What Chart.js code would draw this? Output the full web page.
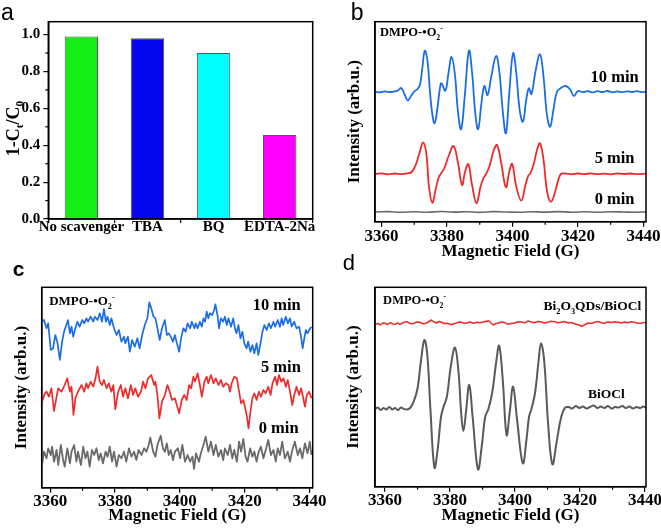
<!DOCTYPE html>
<html><head><meta charset="utf-8">
<script src="https://cdn.jsdelivr.net/npm/chart.js@4.4.1/dist/chart.umd.min.js"></script>
<style>
html,body{margin:0;padding:0;background:#fff;}
#wrap{position:relative;width:661px;height:528px;overflow:hidden;background:#fff;}
canvas{position:absolute;}
</style></head><body>
<div id="wrap">
<canvas id="ca" width="330" height="255" style="left:0;top:0;width:330px;height:255px"></canvas>
<canvas id="cb" width="345" height="265" style="left:330px;top:0;width:345px;height:265px"></canvas>
<canvas id="cc" width="330" height="278" style="left:0;top:250px;width:330px;height:278px"></canvas>
<canvas id="cd" width="345" height="278" style="left:330px;top:250px;width:345px;height:278px"></canvas>
</div>
<script>
// ---------- data ----------
const scavengers = ['No scavenger', 'TBA', 'BQ', 'EDTA-2Na'];
const removalRatio = [0.99, 0.98, 0.90, 0.455];
const ratioTicks = [0, 0.2, 0.4, 0.6, 0.8, 1.0];
const ratioMinorTicks = [0.1, 0.3, 0.5, 0.7, 0.9];
const fieldTicks = [3360, 3380, 3400, 3420, 3440];
const fieldMinorTicks = [3370, 3390, 3410, 3430];

// panel b : [field (G), intensity (arb.u.)]
const b10min = [[3358.2,130.3],[3359.5,129.6],[3361,130.6],[3362.5,129.8],[3364,130.6],[3365,131.5],[3366,134],[3367,128],[3368,121.5],[3369,126],[3370,130.5],[3371,133],[3371.8,138],[3372.5,155],[3373.2,171.3],[3374,162],[3374.8,130],[3375.5,108],[3376.2,98.7],[3377,112],[3377.8,133],[3378.3,138.7],[3379.5,131.3],[3380.5,150],[3381.4,165],[3382.4,148],[3383.3,112],[3384.3,92.7],[3385.4,125],[3386.7,171.3],[3387.7,148],[3388.6,110],[3389.5,92.7],[3390.5,118],[3391.4,136],[3392.4,127],[3393.5,145],[3395,166],[3396,150],[3397,112],[3398,88.7],[3399,128],[3400.2,168.7],[3401.2,148],[3402.2,112],[3403.2,100.3],[3404.2,122],[3405,133.7],[3405.8,128],[3407,150],[3408.4,167.7],[3409.5,145],[3410.5,108],[3411.5,95.3],[3412.5,112],[3413.6,130.3],[3415,134.5],[3416.3,136],[3417.5,133],[3418.8,126],[3420,131],[3421.5,129.8],[3423,130.8],[3424.5,129.6],[3426,130.9],[3427.5,130],[3429,131],[3430.5,129.7],[3432,130.6],[3433.5,129.8],[3435,130.7],[3436.5,130],[3438,130.8],[3439.5,129.9],[3440.8,130.3]];
const b5min = [[3358.2,48],[3360,48.6],[3362,47.6],[3364,48.5],[3366,47.8],[3368,48.6],[3369.2,50],[3370.3,56],[3371.5,68],[3372.7,79.5],[3373.7,68],[3374.5,35],[3375.5,19.3],[3376.5,32],[3377.4,44],[3378.2,48.7],[3379.2,54],[3380.5,66],[3382,76],[3383.3,60],[3384.6,37],[3385.5,50],[3386.5,58],[3387.6,38],[3389,18.7],[3390.3,36],[3391.3,45],[3391.8,47],[3393,56],[3394.3,72],[3395.3,77],[3396.5,60],[3398,34.7],[3399,50],[3399.9,58],[3401.2,35],[3402.7,21.3],[3403.9,36],[3404.8,46],[3405.5,48.7],[3406.5,58],[3407.5,72],[3408.4,78.7],[3409.5,62],[3410.6,30],[3411.8,20.3],[3413,30],[3414,42],[3414.8,48],[3416,48.6],[3418,47.7],[3420,48.5],[3422,47.9],[3424,48.6],[3426,47.8],[3428,48.4],[3430,47.7],[3432,48.6],[3434,48],[3436,48.5],[3438,47.8],[3440.8,48.3]];
const b0min = [[3358.2,10],[3362,10.4],[3366,9.7],[3370,10.3],[3374,9.8],[3378,10.5],[3382,9.9],[3386,10.3],[3390,9.6],[3394,10.4],[3398,10],[3402,9.7],[3406,10.3],[3410,9.9],[3414,10.4],[3418,9.8],[3422,10.2],[3426,9.7],[3430,10.3],[3434,10],[3438,9.8],[3440.8,10.1]];

// panel c
const c10min = [[3357.5,166.3],[3358.1,168],[3358.9,159.7],[3359.4,164.7],[3360.2,138],[3360.9,139.7],[3361.6,153],[3362.3,144.7],[3363,128],[3363.7,146.3],[3364.3,156.3],[3365,163],[3365.5,168],[3366.1,154.7],[3366.6,161.3],[3367.1,151.3],[3367.8,159.7],[3368.4,166.3],[3369.1,161.3],[3369.9,168],[3370.5,164.7],[3371.2,169.7],[3371.7,166.3],[3372.5,171.3],[3373.3,166.3],[3373.8,171.3],[3374.6,168],[3375.3,174.7],[3376,166.3],[3376.6,179],[3377.2,166.3],[3377.7,171.3],[3378.4,163],[3378.9,169.7],[3379.7,159.7],[3380.5,153],[3381.2,158],[3382,146.3],[3382.8,151.3],[3383.2,144.7],[3384,151.3],[3384.6,136.3],[3385.3,148],[3386.1,141.3],[3386.9,149.7],[3387.6,139.7],[3388.4,153],[3389.2,163],[3390,169.7],[3390.6,185.7],[3391.2,179.7],[3391.9,171.3],[3392.5,169.7],[3393.1,159.7],[3393.8,148],[3394.5,159.7],[3395.4,168],[3396,153],[3396.6,154.7],[3397.2,151.3],[3397.9,146.3],[3398.5,153],[3399.1,144.7],[3399.8,136.3],[3400.4,149.7],[3401.1,159.7],[3401.8,156.3],[3402.4,164.7],[3403.2,159.7],[3403.7,166.3],[3404.5,159.7],[3404.9,164.7],[3405.5,159.7],[3406.2,166.3],[3406.8,161.3],[3407.3,169.7],[3407.8,166.3],[3408.3,176.3],[3408.8,169.7],[3409.3,174.7],[3410,173],[3410.6,178],[3411,183.7],[3411.7,171.3],[3412.1,159.7],[3412.7,169.7],[3413.4,166.3],[3413.9,171.3],[3414.5,163],[3415,169.7],[3415.8,161.3],[3416.5,169.7],[3417,159.7],[3417.5,154.7],[3418.1,163],[3418.7,149.7],[3419.3,156.3],[3419.9,144.7],[3420.6,139.7],[3421.1,146.3],[3421.8,136.3],[3422.4,143],[3423,134.7],[3423.7,144.7],[3424.2,133],[3424.9,144.7],[3425.5,156.3],[3426.1,163],[3426.8,158],[3427.5,164.7],[3428.1,159.7],[3428.9,166.3],[3429.4,161.3],[3430.2,168],[3430.9,161.3],[3431.4,169.7],[3431.9,163],[3432.7,171.3],[3433.3,164.7],[3434,169.7],[3434.5,161.3],[3435.3,166.3],[3436,159.7],[3436.8,161.3],[3437.4,151.3],[3437.9,139.7],[3438.4,149.7],[3438.9,158],[3439.4,154.7],[3439.9,158],[3440.6,161.3]];
const c5min = [[3357.5,86.3],[3358.4,94.7],[3358.9,96.3],[3359.6,91.3],[3360.4,99.7],[3361.2,77],[3362,91.3],[3362.5,99.7],[3363.5,96.3],[3364.5,103],[3365.3,109.7],[3366.1,96.3],[3366.6,101.3],[3367.2,73],[3367.8,89.7],[3368.6,96.3],[3369.7,103],[3370.5,96.3],[3371.2,104.7],[3371.7,99.7],[3372.5,106.3],[3373.3,101.3],[3374,109.7],[3374.6,121.3],[3375.3,106.3],[3376,103],[3376.6,108],[3377.4,99.7],[3378.1,104.7],[3378.9,96.3],[3379.5,103],[3380.1,78.7],[3381,96.3],[3381.8,103],[3382.5,91.3],[3383.2,99.7],[3384,89.7],[3384.9,103],[3385.6,93],[3386.3,99.7],[3387.1,91.3],[3388,96.3],[3388.7,106.3],[3389.4,99.7],[3390.2,109.7],[3391.2,113],[3392.1,103],[3392.5,106.3],[3393.1,93],[3393.7,69.7],[3394.5,86.3],[3395.4,93],[3396.2,103],[3396.9,96.3],[3397.6,88],[3398.5,89.7],[3399.8,74.7],[3400.6,88],[3401.4,93],[3402.1,88],[3402.9,103],[3403.5,99.7],[3404.2,111.3],[3404.7,106.3],[3405.5,114.7],[3406.2,103],[3406.8,91.3],[3407.6,106.3],[3408.3,111.3],[3408.8,104.7],[3409.6,113],[3410.4,104.7],[3411.1,109.7],[3411.9,103],[3412.7,108],[3413.4,101.3],[3414.2,104.7],[3415,103],[3415.5,96.3],[3416,104.7],[3416.8,111.3],[3417.6,109.7],[3418.3,96.3],[3418.9,84.7],[3419.6,88],[3420.3,78],[3420.7,71.3],[3421.2,59.7],[3421.8,76.3],[3422.4,89.7],[3423,94.7],[3423.7,88],[3424.4,96.3],[3425,91.3],[3425.8,98],[3426.5,94.7],[3427.3,101.3],[3428,93],[3428.6,104.7],[3429.4,111.3],[3430,103],[3430.6,113],[3431.3,106.3],[3432,109.7],[3432.7,101.3],[3433.3,108],[3434,96.3],[3434.7,83],[3435.3,93],[3436,101.3],[3436.8,93],[3437.4,99.7],[3438.1,89.7],[3438.6,81.3],[3439.2,93],[3439.9,96.3],[3440.6,89.7]];
const c0min = [[3357.5,23],[3358.1,36.3],[3358.9,29.7],[3359.4,39.7],[3360.2,33],[3360.6,41.3],[3361.2,26.3],[3362,38],[3362.5,23],[3363.3,43],[3364,28],[3364.5,21.3],[3365.3,39.7],[3366.1,24.7],[3366.6,36.3],[3367.4,43],[3368.1,26.3],[3368.6,36.3],[3369.5,23],[3370.2,41.3],[3370.9,29.7],[3371.5,36.3],[3372.2,21.3],[3372.9,38],[3373.6,33],[3374.3,39.7],[3375,28],[3375.6,34.7],[3376.3,24.7],[3377.1,36.3],[3377.7,31.3],[3378.4,41.3],[3379.1,26.3],[3379.7,36.3],[3380.5,21.3],[3381.2,33],[3382,29.7],[3382.8,36.3],[3383.5,26.3],[3384.3,39.7],[3385.1,31.3],[3385.9,36.3],[3386.6,28],[3387.3,38],[3388.2,33],[3389,39.7],[3389.7,36.3],[3390.4,43],[3390.9,50.3],[3391.8,36.3],[3392.5,31.3],[3393.1,43],[3394.1,52.3],[3394.8,39.7],[3395.4,36.3],[3396,44.7],[3396.6,33],[3397.2,38],[3397.9,28],[3398.5,36.3],[3399.4,39.7],[3400.1,29.7],[3400.8,43],[3401.6,26.3],[3402.4,33],[3403.2,26.3],[3403.9,31.3],[3404.4,19],[3405,34.7],[3405.9,26.3],[3406.5,34.7],[3407.3,43],[3408,51.3],[3408.8,36.3],[3409.6,46.3],[3410.4,33],[3411.1,43],[3411.9,31.3],[3412.7,38],[3413.4,28],[3413.9,39.7],[3414.8,33],[3415.5,43],[3416.2,29.7],[3416.8,38],[3417.6,26.3],[3418.3,46.3],[3418.9,36.3],[3419.6,49],[3420.3,31.3],[3420.9,26.3],[3421.7,39.7],[3422.4,31.3],[3423,36.3],[3423.7,26.3],[3424.2,34.7],[3425,41.3],[3425.8,29.7],[3426.5,38],[3427.3,48],[3428.1,33],[3428.9,38],[3429.6,26.3],[3430.2,39.7],[3430.9,33],[3431.6,46.3],[3432.4,29.7],[3433.3,36.3],[3434,26.3],[3434.7,38],[3435.5,46.3],[3436.4,33],[3437.1,39.7],[3437.8,29.7],[3438.6,44.7],[3439.4,34.7],[3440.1,46.3],[3440.6,33]];

// panel d
const dComposite = [[3356.9,162.7],[3358,163.5],[3358.5,162],[3359.3,164],[3360,163.7],[3360.8,162.5],[3361.6,164.3],[3362.4,163],[3363.1,162.7],[3363.9,164],[3364.6,162.7],[3365.6,164.5],[3366.7,165.3],[3367.7,163.5],[3368.7,163.3],[3369.7,165],[3370.7,164.7],[3371.7,163.3],[3372.8,164],[3373.5,165.5],[3374.3,167],[3375.1,165],[3375.9,164],[3376.6,165.5],[3377.4,164.7],[3378.2,163.5],[3379,163.7],[3379.8,163],[3380.5,162.3],[3381.3,163.5],[3382,164],[3382.8,165],[3383.6,164.7],[3384.3,163.5],[3385.1,164],[3386.1,165],[3387.2,163.7],[3388.2,164.8],[3389.2,164.3],[3390.5,165.2],[3391.8,166.3],[3392.6,164],[3393.3,162],[3394.1,163.5],[3394.9,164],[3395.9,165],[3396.9,164.3],[3397.8,162.7],[3398.8,163.5],[3399.9,164],[3400.9,165.2],[3401.9,165],[3403,164.2],[3404,166],[3405,165],[3406,164.3],[3407,165.5],[3408.1,165],[3409.1,164],[3410.1,164.7],[3411.1,165.8],[3412.2,165.3],[3413.2,164.2],[3414.2,164.7],[3415.2,165.5],[3416.3,164],[3417.3,164.5],[3418.4,163],[3419.5,162.2],[3420.6,160.7],[3421.5,162.5],[3422.5,164],[3423.5,163.5],[3424.5,164.7],[3425.5,165.5],[3426.6,164.3],[3427.6,163.8],[3428.6,165],[3429.6,164.5],[3430.7,165.3],[3431.7,164.8],[3432.7,164],[3433.7,165],[3434.8,164.3],[3435.8,165.2],[3436.8,164.7],[3437.8,163.8],[3438.9,163.7],[3439.7,164.6],[3440.4,163.3]];
const dBiOCl = [[3356.9,78],[3357.8,79.5],[3358.6,77],[3359.5,79],[3360.4,77.5],[3361.3,80],[3362.2,77.5],[3363.1,79],[3364,77],[3364.9,79.5],[3365.8,78],[3366.7,77.5],[3367.7,79],[3368.8,85.3],[3370,98.7],[3371,125],[3372.1,147],[3373,132],[3374,75],[3375.2,19.3],[3376.2,38],[3377.2,70],[3378,80.3],[3379,90],[3380.2,120],[3381.5,139.3],[3382.6,115],[3383.4,75],[3384.1,56],[3384.9,75],[3385.9,102],[3387,68],[3388.6,17.7],[3389.8,42],[3390.8,70],[3391.8,78],[3393,95],[3394.2,125],[3395.1,141.3],[3396.2,108],[3397.4,52],[3398.4,76],[3399.4,100.3],[3400.6,68],[3402.4,23.7],[3403.6,50],[3404.3,70],[3405.1,78.7],[3406.2,95],[3407.2,125],[3408,143.7],[3409,125],[3410.2,62],[3411.5,22.7],[3412.8,45],[3414.2,70],[3415.4,79.3],[3416.5,80],[3417.6,78.5],[3418.7,81],[3419.8,79],[3420.9,80.5],[3422,78.5],[3423.1,80],[3424.2,81.5],[3425.3,79],[3426.4,80.5],[3427.5,79],[3428.6,81],[3429.7,78.5],[3430.8,80],[3431.9,79.5],[3433,81],[3434.1,79],[3435.2,80.5],[3436.3,78.5],[3437.4,80],[3438.5,79],[3439.5,80.5],[3440.3,79]];

// ---------- styles ----------
const SERIF = "'Liberation Serif','Times New Roman',serif";
const SANS = "'Liberation Sans',Arial,sans-serif";
const barColors = ['#14ee14', '#0505ee', '#00ffff', '#ff00ff'];
const BLUE = '#1b6de6', RED = '#f02a2a', GRAY = '#6a6a6a';

function drawRich(ctx, parts, x, y, size, align) {
  const fs = p => (p[1] ? size * 0.62 : size);
  let w = 0;
  parts.forEach(p => { ctx.font = 'bold ' + fs(p) + 'px ' + SERIF; w += ctx.measureText(p[0]).width; });
  let cx = align === 'center' ? x - w / 2 : align === 'right' ? x - w : x;
  ctx.textAlign = 'left'; ctx.textBaseline = 'alphabetic';
  parts.forEach(p => {
    ctx.font = 'bold ' + fs(p) + 'px ' + SERIF;
    const dy = p[1] === 'sub' ? size * 0.27 : p[1] === 'sup' ? -size * 0.42 : 0;
    ctx.fillText(p[0], cx, y + dy);
    cx += ctx.measureText(p[0]).width;
  });
}

function deco(cfg) {
  return {
    id: 'deco' + Math.random().toString(36).slice(2),
    afterDraw(chart) {
      const ctx = chart.ctx, a = chart.chartArea;
      ctx.save();
      ctx.strokeStyle = '#000'; ctx.lineWidth = 1.5;
      ctx.strokeRect(a.left, a.top, a.right - a.left, a.bottom - a.top);
      ctx.lineWidth = 1.2;
      (cfg.minorX || []).forEach(v => { const px = chart.scales.x.getPixelForValue(v); ctx.beginPath(); ctx.moveTo(px, a.bottom); ctx.lineTo(px, a.bottom + 3); ctx.stroke(); });
      (cfg.minorY || []).forEach(v => { const py = chart.scales.y.getPixelForValue(v); ctx.beginPath(); ctx.moveTo(a.left - 3, py); ctx.lineTo(a.left, py); ctx.stroke(); });
      ctx.fillStyle = '#000';
      (cfg.notes || []).forEach(n => drawRich(ctx, n.parts, chart.scales.x.getPixelForValue(n.x), chart.scales.y.getPixelForValue(n.y), n.size, n.align));
      if (cfg.letter) { ctx.font = cfg.letter.font; ctx.textAlign = 'left'; ctx.textBaseline = 'alphabetic'; ctx.fillText(cfg.letter.text, cfg.letter.x, cfg.letter.y); }
      if (cfg.yTitle) { ctx.translate(cfg.yTitle.x, cfg.yTitle.y); ctx.rotate(-Math.PI / 2); drawRich(ctx, cfg.yTitle.parts, 0, 0, cfg.yTitle.size, 'center'); }
      ctx.restore();
    }
  };
}

const tickFont = s => ({ family: SERIF, size: s, weight: 'bold' });
const base = { responsive: false, animation: false, events: [], devicePixelRatio: 1,
  plugins: { legend: { display: false }, tooltip: { enabled: false } } };

// ---------- panel a ----------
new Chart(document.getElementById('ca'), {
  type: 'bar',
  data: { labels: scavengers, datasets: [{ data: removalRatio, backgroundColor: barColors, borderColor: '#555', borderWidth: 1, barPercentage: 0.504, categoryPercentage: 1 }] },
  options: Object.assign({}, base, {
    layout: { padding: { left: 0, top: 21.7, right: 17.3, bottom: 0 } },
    scales: {
      x: { grid: { offset: true, drawOnChartArea: false, tickLength: 4, color: '#000', lineWidth: 1.2 }, border: { color: '#000', width: 1.5 },
           ticks: { font: tickFont(15), color: '#000', padding: -4.5, maxRotation: 0, autoSkip: false }, afterFit: s => { s.height = 36; } },
      y: { min: 0, max: 1.07, afterBuildTicks: s => { s.ticks = ratioTicks.map(v => ({ value: v })); },
           ticks: { font: tickFont(15), color: '#000', padding: 3, callback: v => Number(v).toFixed(1) },
           grid: { drawOnChartArea: false, tickLength: 5, color: '#000', lineWidth: 1.2 }, border: { color: '#000', width: 1.5 },
           afterFit: s => { s.width = 48.3; } }
    }
  }),
  plugins: [deco({ minorY: ratioMinorTicks, letter: { text: 'a', x: 1, y: 20, font: '23px ' + SANS },
    yTitle: { x: 18.5, y: 128.5, size: 18, parts: [['1-C'], ['t', 'sub'], ['/C'], ['0', 'sub']] } })]
});

// ---------- helper for EPR panels ----------
function eprChart(id, sets, o) {
  return new Chart(document.getElementById(id), {
    type: 'line',
    data: { datasets: sets },
    options: Object.assign({}, base, {
      layout: { padding: o.pad },
      scales: {
        x: { type: 'linear', min: o.xmin, max: o.xmax,
             afterBuildTicks: s => { s.ticks = fieldTicks.map(v => ({ value: v })); },
             ticks: { font: tickFont(17), color: '#000', padding: o.tickPad, maxRotation: 0, autoSkip: false, callback: v => String(v) },
             grid: { drawOnChartArea: false, tickLength: 5, color: '#000', lineWidth: 1.2 }, border: { color: '#000', width: 1.5 },
             title: { display: true, text: 'Magnetic Field (G)', font: tickFont(17), color: '#000', padding: 0 },
             afterFit: s => { s.height = o.xh; } },
        y: { min: o.ymin, max: o.ymax, ticks: { display: false }, grid: { display: false, drawTicks: false },
             border: { color: '#000', width: 1.5 },
             title: { display: true, text: 'Intensity (arb.u.)', font: tickFont(17), color: '#000', padding: { top: o.ytPad, bottom: 0 } },
             afterFit: s => { s.width = o.yw; } }
      }
    }),
    plugins: [deco(o.deco)]
  });
}
const line = (data, color, w, tension) => ({ data: data.map(p => ({ x: p[0], y: p[1] })), borderColor: color, borderWidth: w, pointRadius: 0,
  tension: tension, fill: false, borderJoinStyle: 'round' });
const dmpo = [['DMPO-•O'], ['2', 'sub'], ['-', 'sup']];

// ---------- panel b ----------
eprChart('cb', [line(b0min, GRAY, 1.6, 0.4), line(b5min, RED, 1.8, 0.4), line(b10min, BLUE, 1.8, 0.4)], {
  pad: { left: 0, top: 21.7, right: 29, bottom: 3.6 }, xmin: 3358, xmax: 3440.8, ymin: 0.3, ymax: 200.3,
  tickPad: 0, xh: 39.7, yw: 45, ytPad: 14.5,
  deco: { minorX: fieldMinorTicks, letter: { text: 'b', x: 20.7, y: 20, font: '23px ' + SANS },
    notes: [ { parts: dmpo, x: 3359.5, y: 185.7, size: 12.5, align: 'left' },
             { parts: [['10 min']], x: 3431.2, y: 140.3, size: 16.5, align: 'center' },
             { parts: [['5 min']], x: 3431.2, y: 59.3, size: 16.5, align: 'center' },
             { parts: [['0 min']], x: 3431.2, y: 18, size: 16.5, align: 'center' } ] }
});

// ---------- panel c ----------
eprChart('cc', [line(c0min, GRAY, 1.8, 0), line(c5min, RED, 1.7, 0), line(c10min, BLUE, 1.7, 0)], {
  pad: { left: 0, top: 37.3, right: 17.3, bottom: 2 }, xmin: 3357.4, xmax: 3441, ymin: 0.3, ymax: 200.7,
  tickPad: -1, xh: 38.3, yw: 41.7, ytPad: 11.5,
  deco: { minorX: fieldMinorTicks, letter: { text: 'c', x: 12.7, y: 25.7, font: 'bold 21px ' + SANS },
    notes: [ { parts: dmpo, x: 3359.7, y: 183, size: 13, align: 'left' },
             { parts: [['10 min']], x: 3429.9, y: 178, size: 16.5, align: 'center' },
             { parts: [['5 min']], x: 3431.2, y: 115.7, size: 16.5, align: 'center' },
             { parts: [['0 min']], x: 3430.5, y: 54.7, size: 16.5, align: 'center' } ] }
});

// ---------- panel d ----------
eprChart('cd', [line(dBiOCl, '#5a5a5a', 2, 0.4), line(dComposite, RED, 1.5, 0)], {
  pad: { left: 0, top: 37.3, right: 29, bottom: 2.5 }, xmin: 3356.9, xmax: 3440.3, ymin: 0.3, ymax: 199.7,
  tickPad: -1, xh: 38.8, yw: 45, ytPad: 13.8,
  deco: { minorX: fieldMinorTicks, letter: { text: 'd', x: 12.7, y: 20, font: '22px ' + SANS },
    notes: [ { parts: dmpo, x: 3359.4, y: 182.7, size: 12.5, align: 'left' },
             { parts: [['Bi'], ['2', 'sub'], ['O'], ['3', 'sub'], ['QDs/BiOCl']], x: 3438.8, y: 177, size: 13.5, align: 'right' },
             { parts: [['BiOCl']], x: 3428.1, y: 88.7, size: 13.5, align: 'center' } ] }
});
</script>
</body></html>
